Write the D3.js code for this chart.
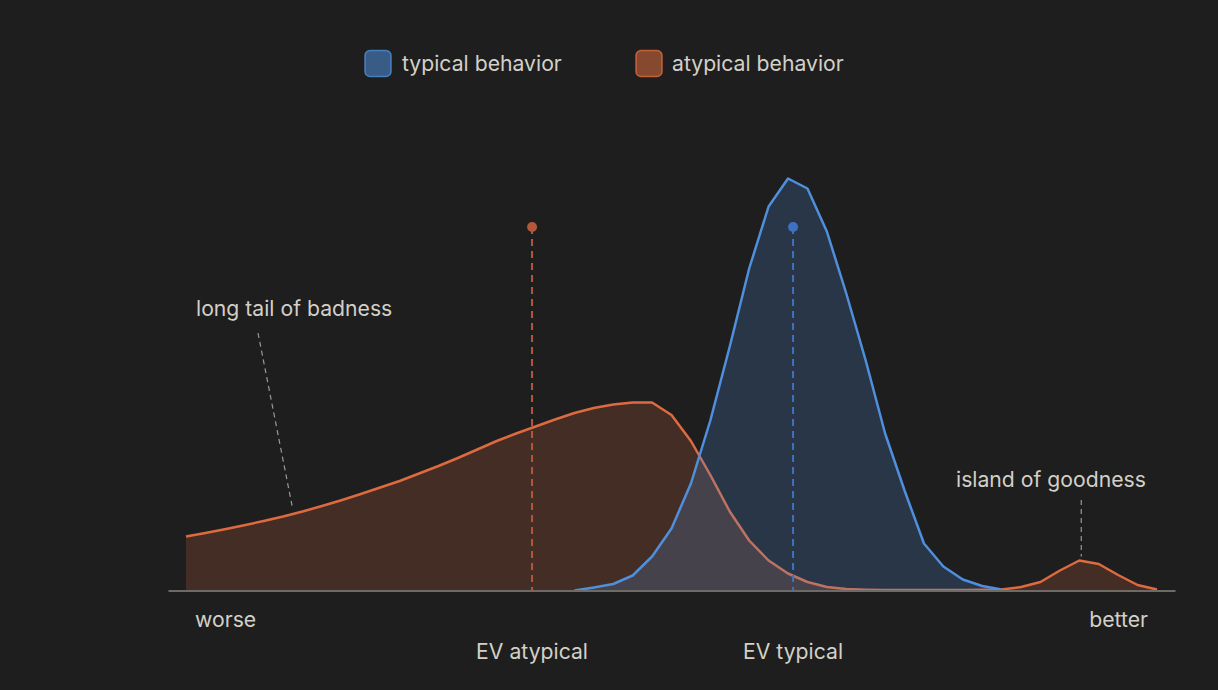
<!DOCTYPE html>
<html>
<head>
<meta charset="utf-8">
<script src="https://cdn.jsdelivr.net/npm/d3@7/dist/d3.min.js"></script>
<style>
  html, body { margin: 0; padding: 0; background: #1e1e1e; }
  svg { display: block; }
  text { font-family: Inter, "Open Sans", sans-serif; fill: #d3d0c8; font-size: 21.2px; }
</style>
</head>
<body>
<svg id="chart" width="1218" height="690"></svg>
<script>
// ---- data ----
const steps = d3.range(0, 51); // outcome grid, worse -> better
const typical = [null,null,null,null,null,null,null,null,null,null,
  null,null,null,null,null,null,null,null,null,null,
  0,3,6.5,15,34,62,107,170,244,322,
  384,412,402,359,297,230,157,100,47,24,
  11,4.5,1,null,null,null,null,null,null,null,null];
const atypical = [54,57.5,61.3,65.3,69.5,74,79,84.5,90.3,96.5,
  103,109.5,117,124.5,132.5,141,149.5,157,164,171,
  177.5,182.5,186,188,188,175.5,149.5,115.5,79,50,
  30,17,8.5,3.5,1.5,0.8,0.5,0.5,0.5,0.5,
  0.5,0.7,1,3.5,8.5,20,30,26.5,15.5,5.5,1];
const evAtypical = 17.82, evTypical = 31.26, evHeight = 363.5;
const seriesNames = ["typical behavior", "atypical behavior"];
const axisLabels = ["worse", "better"];

const svg = d3.select("#chart");
const x = d3.scaleLinear().domain([0, 50]).range([186, 1157]);
const y = d3.scaleLinear().domain([0, 420]).range([590.5, 170.5]);

const BLUE = "#4f8fdc", ORANGE = "#de6b40";

const area = (vals) => d3.area()
  .defined((d, i) => vals[i] != null)
  .x((d) => x(d)).y0(y(0)).y1((d, i) => y(vals[i]));
const line = (vals) => d3.line()
  .defined((d, i) => vals[i] != null)
  .x((d) => x(d)).y((d, i) => y(vals[i]));

// atypical first
svg.append("path").datum(steps).attr("d", area(atypical))
  .attr("fill", ORANGE).attr("fill-opacity", 0.2);
svg.append("path").datum(steps).attr("d", line(atypical))
  .attr("fill", "none").attr("stroke", ORANGE).attr("stroke-width", 2.5)
  .attr("stroke-linejoin", "round");
// typical on top
svg.append("path").datum(steps).attr("d", area(typical))
  .attr("fill", BLUE).attr("fill-opacity", 0.22);
svg.append("path").datum(steps).attr("d", line(typical))
  .attr("fill", "none").attr("stroke", BLUE).attr("stroke-width", 2.5)
  .attr("stroke-linejoin", "round");

// axis baseline
const axisScale = x.copy().domain([-0.93, 50.93]).range([168, 1175]);
const axisG = svg.append("g").attr("transform", `translate(0,${y(0)})`)
  .call(d3.axisBottom(axisScale).tickValues([]).tickSizeOuter(0));
axisG.select(".domain").attr("stroke", "#6e6a66").attr("stroke-width", 2);

// EV markers
const evs = [
  {pos: evAtypical, color: "#b5573b", label: "EV atypical"},
  {pos: evTypical, color: "#3d72c2", label: "EV typical"}
];
evs.forEach(e => {
  svg.append("line").attr("x1", x(e.pos)).attr("x2", x(e.pos))
    .attr("y1", y(evHeight)).attr("y2", y(0))
    .attr("stroke", e.color).attr("stroke-width", 2).attr("stroke-dasharray", "7,5");
  svg.append("circle").attr("cx", x(e.pos)).attr("cy", y(evHeight)).attr("r", 5)
    .attr("fill", e.color);
  svg.append("text").attr("x", x(e.pos)).attr("y", 659).attr("text-anchor", "middle")
    .text(e.label);
});

// axis end labels
svg.append("text").attr("x", 195).attr("y", 627).text(axisLabels[0]);
svg.append("text").attr("x", 1148).attr("y", 627).attr("text-anchor", "end").text(axisLabels[1]);

// annotations
svg.append("text").attr("x", 196).attr("y", 316).text("long tail of badness");
svg.append("line").attr("x1", 258).attr("y1", 333).attr("x2", x(5.5)).attr("y2", y(77) - 4)
  .attr("stroke", "#9a9893").attr("stroke-width", 1.2).attr("stroke-dasharray", "5,4");
svg.append("text").attr("x", 956).attr("y", 487).text("island of goodness");
svg.append("line").attr("x1", x(46.1)).attr("y1", 500).attr("x2", x(46.1)).attr("y2", y(30) - 4)
  .attr("stroke", "#9a9893").attr("stroke-width", 1.2).attr("stroke-dasharray", "5,4");

// legend
const legend = [
  {name: seriesNames[0], color: BLUE, sx: 365, tx: 402},
  {name: seriesNames[1], color: ORANGE, sx: 636, tx: 672}
];
legend.forEach(l => {
  svg.append("rect").attr("x", l.sx).attr("y", 50.5).attr("width", 26).attr("height", 26)
    .attr("rx", 5).attr("fill", l.color).attr("fill-opacity", 0.55)
    .attr("stroke", l.color).attr("stroke-opacity", 0.8).attr("stroke-width", 1.5);
  svg.append("text").attr("x", l.tx).attr("y", 71).text(l.name);
});
</script>
</body>
</html>
